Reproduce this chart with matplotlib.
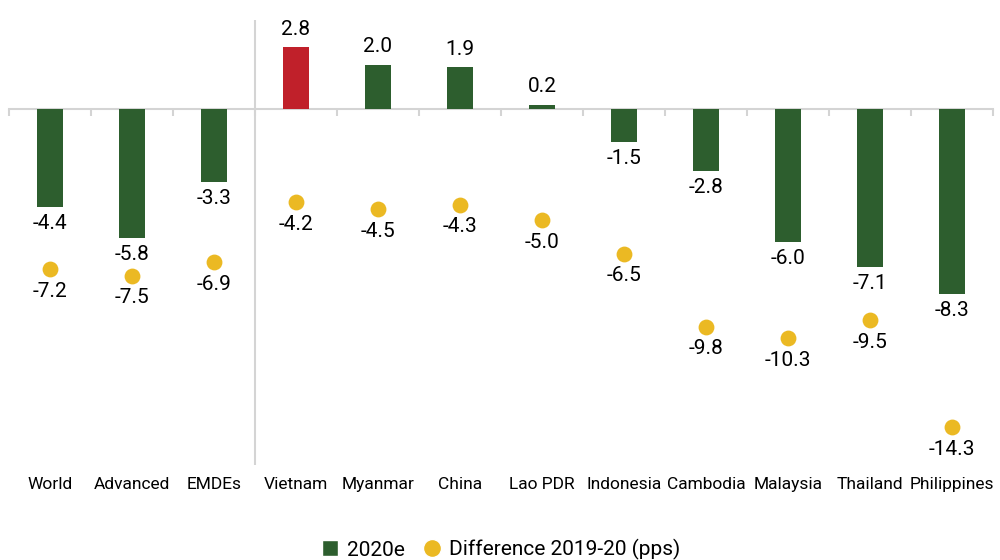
import matplotlib.pyplot as plt
import numpy as np
from matplotlib.lines import Line2D

plt.rcParams['font.family'] = ['Roboto', 'DejaVu Sans']

# data
countries = ['World', 'Advanced', 'EMDEs', 'Vietnam', 'Myanmar', 'China', 'Lao PDR',
             'Indonesia', 'Cambodia', 'Malaysia', 'Thailand', 'Philippines']
growth_2020 = [-4.4, -5.8, -3.3, 2.8, 2.0, 1.9, 0.2, -1.5, -2.8, -6.0, -7.1, -8.3]
diff_2019_20 = [-7.2, -7.5, -6.9, -4.2, -4.5, -4.3, -5.0, -6.5, -9.8, -10.3, -9.5, -14.3]

green = '#2d5e2e'
red = '#c0202a'
yellow = '#ebb923'
grey = '#d4d4d4'

fig = plt.figure(figsize=(10, 5.6), dpi=100)
ax = fig.add_axes([0.009, 0.17, 0.984, 0.794])

x = np.arange(len(countries))
colors = [red if c == 'Vietnam' else green for c in countries]
ax.bar(x, growth_2020, width=0.32, color=colors, zorder=3)
ax.scatter(x, diff_2019_20, s=130, color=yellow, zorder=4, linewidths=0)

# value labels
for xi, v in zip(x, growth_2020):
    if v >= 0:
        ax.annotate(f'{v:.1f}', (xi, v), xytext=(0, 6), textcoords='offset points',
                    ha='center', va='bottom', fontsize=15)
    else:
        ax.annotate(f'{v:.1f}', (xi, v), xytext=(0, -5), textcoords='offset points',
                    ha='center', va='top', fontsize=15)
for xi, v in zip(x, diff_2019_20):
    ax.annotate(f'{v:.1f}', (xi, v), xytext=(0, -9), textcoords='offset points',
                ha='center', va='top', fontsize=15)

ax.set_xlim(-0.5, len(countries) - 0.5)
ax.set_ylim(-16, 4)
ax.axvline(2.5, color=grey, lw=1.5, zorder=1)

for s in ['top', 'left', 'right']:
    ax.spines[s].set_visible(False)
ax.spines['bottom'].set_position(('data', 0))
ax.spines['bottom'].set_color(grey)
ax.spines['bottom'].set_linewidth(1.5)
ax.spines['bottom'].set_zorder(2)
ax.set_yticks([])
ax.set_xticks(np.arange(-0.5, len(countries), 1.0))
ax.set_xticklabels([])
ax.tick_params(axis='x', direction='out', length=5, color=grey, width=1.5)

sec = ax.secondary_xaxis('bottom')
sec.set_xticks(x)
sec.set_xticklabels(countries, fontsize=12.5)
sec.tick_params(length=0, pad=9)
sec.spines['bottom'].set_visible(False)

handles = [Line2D([0], [0], marker='s', color='w', markerfacecolor=green, markersize=12, lw=0),
           Line2D([0], [0], marker='o', color='w', markerfacecolor=yellow, markersize=13, lw=0)]
fig.legend(handles, ['2020e', 'Difference 2019-20 (pps)'], loc='center',
           bbox_to_anchor=(0.5, 0.018), ncol=2, frameon=False, fontsize=15,
           handletextpad=0.3, columnspacing=0.8, handlelength=1.0)

plt.savefig('out.png', dpi=100)
